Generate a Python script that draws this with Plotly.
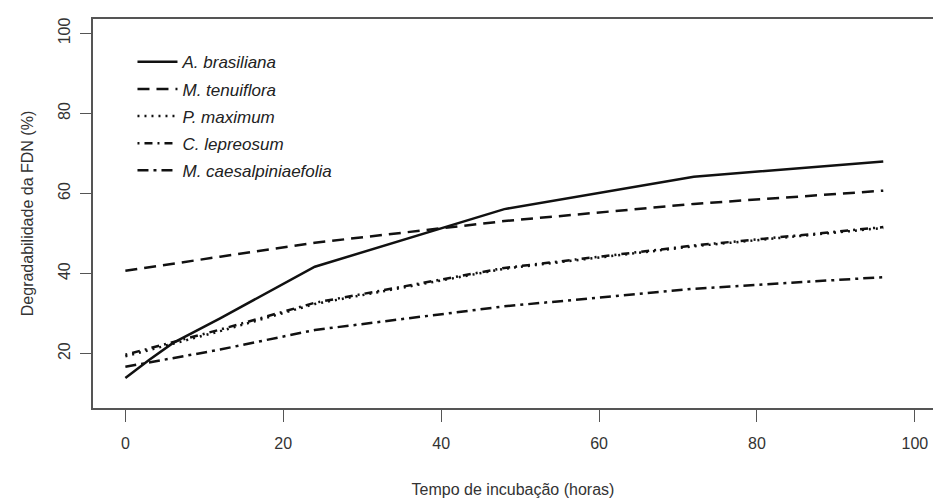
import plotly.graph_objects as go

hours = [0, 3, 6, 12, 24, 48, 72, 96]
brasiliana = [13.9, 18.4, 22.6, 28.8, 41.7, 56.1, 64.2, 68.0]
tenuiflora = [40.7, 41.6, 42.5, 44.2, 47.7, 53.1, 57.4, 60.7]
maximum = [19.3, 20.9, 22.5, 25.6, 32.4, 41.2, 46.8, 51.4]
lepreosum = [19.7, 21.3, 22.9, 26.0, 32.7, 41.4, 47.0, 51.6]
caesalpiniaefolia = [16.7, 17.8, 18.9, 21.0, 25.9, 31.8, 36.2, 39.1]

series = [
    ("A. brasiliana", brasiliana, "solid"),
    ("M. tenuiflora", tenuiflora, "12px,7px"),
    ("P. maximum", maximum, "2px,5px"),
    ("C. lepreosum", lepreosum, "2px,5px,8px,5px"),
    ("M. caesalpiniaefolia", caesalpiniaefolia, "11px,5px,3px,5px"),
]

x_ticks = [0, 20, 40, 60, 80, 100]
y_ticks = [20, 40, 60, 80, 100]

fig = go.Figure()
for i, (name, vals, dash) in enumerate(series):
    fig.add_trace(go.Scatter(
        x=hours, y=vals, mode="lines", name=name, legendgroup=f"g{i}",
        line=dict(color="#111111", width=2.5, dash=dash),
    ))

axis_font = dict(family="Liberation Sans, Arial, sans-serif", size=16, color="#333333")

fig.update_layout(
    width=933, height=500,
    margin=dict(l=93, r=0, t=19, b=92),
    paper_bgcolor="white", plot_bgcolor="white",
    showlegend=True,
    legend=dict(
        x=0.047, y=0.935, xanchor="left", yanchor="top",
        bgcolor="rgba(0,0,0,0)",
        font=dict(family="Liberation Sans, Arial, sans-serif", size=17, color="#222222", style="italic"),
        traceorder="grouped", tracegroupgap=2, itemwidth=40,
    ),
    xaxis=dict(
        range=[-4.1, 102.3], tickvals=x_ticks, ticktext=[str(v) for v in x_ticks],
        showgrid=False, zeroline=False,
        showline=True, linecolor="#555555", linewidth=1.6, mirror=True,
        ticks="outside", ticklen=12, tickcolor="#555555", tickwidth=1.3,
        tickfont=axis_font, ticklabelstandoff=8,
        title=dict(text="Tempo de incubação (horas)", font=axis_font, standoff=33),
    ),
    yaxis=dict(
        range=[6.4, 103.6], tickvals=y_ticks, ticktext=[str(v) for v in y_ticks],
        showgrid=False, zeroline=False,
        showline=True, linecolor="#555555", linewidth=1.6,
        ticks="outside", ticklen=11, tickcolor="#555555", tickwidth=1.3,
        tickangle=-90, tickfont=axis_font, ticklabelstandoff=4,
        title=dict(text="Degradabilidade da FDN (%)", font=axis_font, standoff=18),
    ),
)

fig.write_html("out.html")
